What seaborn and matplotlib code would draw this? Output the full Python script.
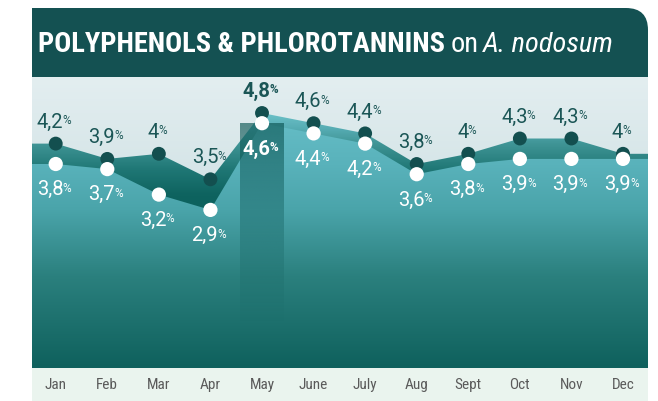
import numpy as np
import pandas as pd
import matplotlib
matplotlib.use("Agg")
import matplotlib.pyplot as plt
import seaborn as sns
from matplotlib import font_manager
from matplotlib.path import Path
from matplotlib.patches import PathPatch, Rectangle
from matplotlib.colors import LinearSegmentedColormap, to_rgba

# ---- data -------------------------------------------------------------
months = ["Jan", "Feb", "Mar", "Apr", "May", "June", "July",
          "Aug", "Sept", "Oct", "Nov", "Dec"]
polyphenols = [4.2, 3.9, 4.0, 3.5, 4.8, 4.6, 4.4, 3.8, 4.0, 4.3, 4.3, 4.0]
phlorotannins = [3.8, 3.7, 3.2, 2.9, 4.6, 4.4, 4.2, 3.6, 3.8, 3.9, 3.9, 3.9]
highlight_month = "May"

title_bold = "POLYPHENOLS & PHLOROTANNINS"
title_on = "on"
title_species = "A. nodosum"

df = pd.DataFrame({"month": months,
                   "pos": np.arange(len(months)),
                   "polyphenols": polyphenols,
                   "phlorotannins": phlorotannins})

# ---- style ------------------------------------------------------------
sns.set_theme(style="white")
installed = {f.name for f in font_manager.fontManager.ttflist}
narrow_candidates = ["Liberation Sans Narrow", "Roboto Condensed", "Open Sans Condensed",
                     "DejaVu Sans Condensed", "Noto Sans Condensed"]
narrow_candidates += sorted(n for n in installed if ("Narrow" in n or "Condensed" in n))
narrow = next((n for n in narrow_candidates if n in installed), "Liberation Sans")
value_font = "Roboto" if "Roboto" in installed else "DejaVu Sans"
plt.rcParams["font.family"] = [narrow, "DejaVu Sans"]

DARK = "#134f4f"
LABEL_DARK = "#1b5656"
HEADER = "#145152"
MONTH_BAND = "#eaf4ee"

W, H = 658, 401
fig = plt.figure(figsize=(W / 100, H / 100), dpi=100)

# ---- card: header and month band (pixel coordinates) -------------------
bg = fig.add_axes([0, 0, 1, 1], zorder=0)
bg.set_xlim(0, W)
bg.set_ylim(H, 0)
bg.axis("off")

x0, x1, y0, y1, r = 32, 648, 8, 77, 22
header_path = Path(
    [(x0, y1), (x0, y0), (x1 - r, y0), (x1, y0), (x1, y0 + r), (x1, y1), (x0, y1)],
    [Path.MOVETO, Path.LINETO, Path.LINETO, Path.CURVE3, Path.CURVE3,
     Path.LINETO, Path.CLOSEPOLY])
bg.add_patch(PathPatch(header_path, facecolor=HEADER, edgecolor="none"))
bg.add_patch(Rectangle((x0, 368), x1 - x0, 33, facecolor=MONTH_BAND, edgecolor="none"))

# title: bold part, then "on" and the italic species name
title_size = 19
t1 = bg.text(38, 52, title_bold, fontsize=title_size, fontweight="bold",
             family=narrow, color="white", ha="left", va="baseline")
t2 = bg.annotate(title_on, xy=(1, 0), xycoords=t1, xytext=(4, 0),
                 textcoords="offset points", fontsize=title_size, family=narrow,
                 color="white", ha="left", va="bottom")
t3 = bg.annotate(title_species, xy=(1, 0), xycoords=t2, xytext=(3, 0),
                 textcoords="offset points", fontsize=title_size, family=narrow,
                 style="italic", color="white", ha="left", va="bottom")

# size the title so that it ends where the header text should end
renderer = fig.canvas.get_renderer()
right = t3.get_window_extent(renderer).x1
scale = min(1.15, (615 - 38) / (right - 38))
for t in (t1, t2, t3):
    t.set_fontsize(title_size * scale)

# ---- plot area ---------------------------------------------------------
ax = fig.add_axes([x0 / W, (H - 368) / H, (x1 - x0) / W, (368 - y1) / H], zorder=1)
XMIN, XMAX = -0.46, 11.485
YMIN, YMAX = -0.2, 5.506
extent = [XMIN, XMAX, YMIN, YMAX]


def value_cmap(stops):
    """Colormap whose colour stops are given in data units along y."""
    stops = sorted(stops)
    pos = [(v - YMIN) / (YMAX - YMIN) for v, _ in stops]
    pos[0], pos[-1] = 0.0, 1.0
    return LinearSegmentedColormap.from_list("", list(zip(pos, [c for _, c in stops])))


def vertical_gradient(cmap, zorder, clip=None):
    grad = np.linspace(YMAX, YMIN, 400).reshape(-1, 1)
    im = ax.imshow(grad, extent=extent, aspect="auto", cmap=cmap,
                   vmin=YMIN, vmax=YMAX, origin="upper", zorder=zorder,
                   interpolation="bilinear")
    if clip is not None:
        im.set_clip_path(clip, ax.transData)
    return im


bg_cmap = value_cmap([(5.506, "#e3eef0"), (3.0, "#d1e2e5"), (-0.2, "#c8dcdf")])
band_cmap = value_cmap([(5.506, "#7ccbd2"), (4.8, "#6bc0c8"), (4.5, "#56acb3"),
                        (4.2, "#3f9495"), (3.7, "#1f7775"), (3.2, "#0e635f"),
                        (-0.2, "#0c5e5b")])
low_cmap = value_cmap([(5.506, "#6fc5cd"), (4.6, "#64bcc5"), (3.8, "#59b2bb"),
                       (2.9, "#4aa4aa"), (1.6, "#2b807e"), (-0.2, "#0f615d")])

vertical_gradient(bg_cmap, zorder=0)

# areas run to the edges of the card, holding the first / last month values
xs = np.concatenate([[XMIN], df["pos"], [XMAX]])
poly_ext = np.concatenate([[polyphenols[0]], polyphenols, [polyphenols[-1]]])
phlo_ext = np.concatenate([[phlorotannins[0]], phlorotannins, [phlorotannins[-1]]])

upper = ax.fill_between(xs, poly_ext, YMIN, facecolor="none", edgecolor="none")
vertical_gradient(band_cmap, zorder=1, clip=upper.get_paths()[0])
lower = ax.fill_between(xs, phlo_ext, YMIN, facecolor="none", edgecolor="none")
vertical_gradient(low_cmap, zorder=2, clip=lower.get_paths()[0])

# darker column under the peak month
hi = months.index(highlight_month)
top = phlorotannins[hi]
bar = ax.bar(hi, top - YMIN, bottom=YMIN, width=0.85,
             color="none", edgecolor="none", zorder=3)[0]
shade = np.zeros((400, 1, 4))
shade[..., :3] = to_rgba("#0b5553")[:3]
shade[:, 0, 3] = np.clip(np.linspace(0.65, -0.15, 400), 0, None)
im = ax.imshow(shade, extent=[hi - 0.5, hi + 0.5, YMIN, top], aspect="auto",
               origin="upper", zorder=3, interpolation="bilinear")
im.set_clip_path(bar)

# dots
sns.scatterplot(data=df, x="pos", y="polyphenols", s=100, color=DARK,
                edgecolor="none", linewidth=0, ax=ax, zorder=6, legend=False)
sns.scatterplot(data=df, x="pos", y="phlorotannins", s=105, color="white",
                edgecolor="none", linewidth=0, ax=ax, zorder=7, legend=False)


def fmt(v):
    s = f"{v:.1f}".replace(".", ",")
    return s[:-2] if s.endswith(",0") else s


def value_label(x, v, dy, color, bold):
    weight = "bold" if bold else "normal"
    num = ax.annotate(fmt(v), xy=(x, v), xytext=(-4, dy), textcoords="offset points",
                      ha="center", va="baseline", fontsize=14.5, color=color,
                      family=value_font, fontweight=weight, zorder=8)
    ax.annotate("%", xy=(1, 1), xycoords=num, xytext=(-0.5, -1),
                textcoords="offset points", ha="left", va="top", fontsize=8.5,
                color=color, family=value_font, fontweight=weight, zorder=8)


for i, (p, q) in enumerate(zip(polyphenols, phlorotannins)):
    is_hi = months[i] == highlight_month
    value_label(i, p, 11.5, LABEL_DARK, is_hi)
    value_label(i, q, -22.5, "white", is_hi)

ax.set_xlim(XMIN, XMAX)
ax.set_ylim(YMIN, YMAX)
ax.set_xticks(df["pos"])
ax.set_xticklabels(months, fontsize=11, color="#5a5a5a", family=narrow)
ax.tick_params(axis="x", length=0, pad=7)
ax.set_yticks([])
ax.set_xlabel("")
ax.set_ylabel("")
for s in ax.spines.values():
    s.set_visible(False)

fig.savefig("out.png", dpi=100)
